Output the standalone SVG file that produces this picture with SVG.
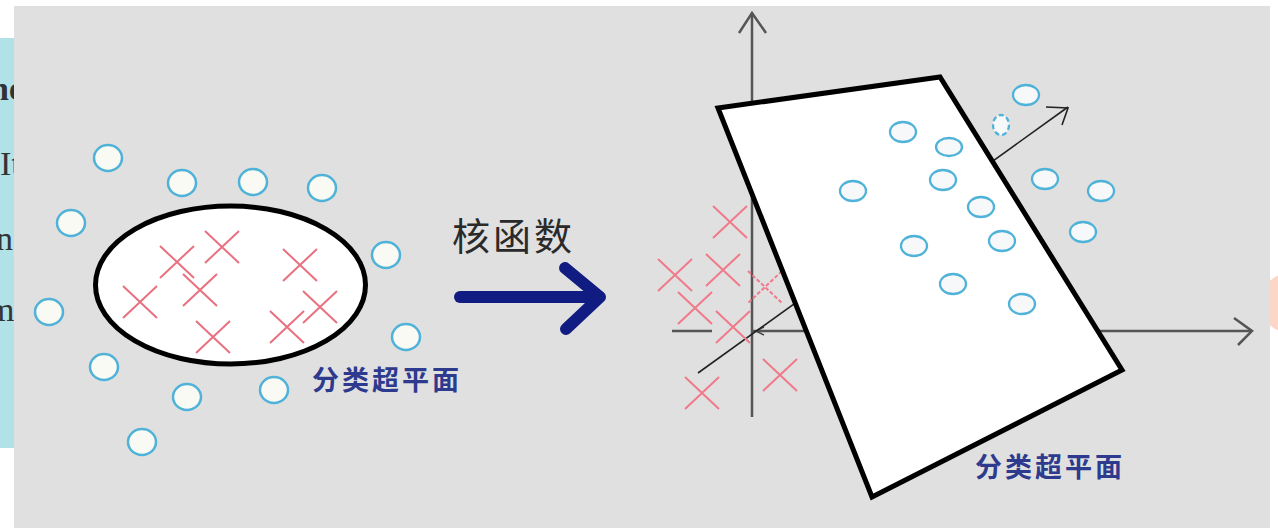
<svg xmlns="http://www.w3.org/2000/svg" xmlns:xlink="http://www.w3.org/1999/xlink" width="1278" height="528" viewBox="0 0 1278 528">
<style>
.pt{fill:#fafaf4;stroke:#4fb2d8;stroke-width:2.5}
.pr{fill:#f6f8f9;stroke:#4fb2d8;stroke-width:2.3}
.cx{stroke:#e8707f;stroke-width:2;fill:none}
.cxr{stroke:#f07a89;stroke-width:2;fill:none}
.ax{stroke:#555;stroke-width:2.5;fill:none}
.lab{font-family:"Noto Sans CJK SC","Noto Sans",sans-serif;font-weight:bold;fill:#2d3a8e;font-size:27px;letter-spacing:3px}
.side{font-family:"Liberation Serif",serif;fill:#333;font-size:34px}
</style>
<defs>
<path id="x" d="M-17,-16 L17,16 M17,-16 L-17,16"/>
</defs>
<rect x="0" y="0" width="1278" height="528" fill="#ffffff"/>
<g id="side-panel">
<rect x="0" y="38" width="40" height="410" fill="#b0e2e8"/>
<text class="side" x="-10" y="100" font-weight="bold" font-size="40">ne</text>
<text class="side" x="0" y="175">It</text>
<text class="side" x="-4" y="250">n</text>
<text class="side" x="-12" y="321">m</text>
</g>
<circle id="orange-dot" cx="1290" cy="303" r="30" fill="#fcd6c6"/>
<rect id="picture" x="14" y="6" width="1256" height="522" fill="#e0e0e0"/>

<g id="left-space">
<ellipse cx="230.5" cy="285" rx="135" ry="79" fill="#ffffff" stroke="#000" stroke-width="5"/>
<g class="cx">
<use xlink:href="#x" x="140" y="302"/>
<use xlink:href="#x" x="177" y="262"/>
<use xlink:href="#x" x="222" y="247"/>
<use xlink:href="#x" x="200" y="290"/>
<use xlink:href="#x" x="213" y="337"/>
<use xlink:href="#x" x="300" y="265"/>
<use xlink:href="#x" x="320" y="307"/>
<use xlink:href="#x" x="287" y="327"/>
</g>
<g>
<ellipse class="pt" cx="108" cy="158" rx="14" ry="13"/>
<ellipse class="pt" cx="182" cy="183" rx="14" ry="13"/>
<ellipse class="pt" cx="253" cy="182" rx="14" ry="13"/>
<ellipse class="pt" cx="322" cy="188" rx="14" ry="13"/>
<ellipse class="pt" cx="71" cy="223" rx="14" ry="13"/>
<ellipse class="pt" cx="386" cy="255" rx="14" ry="13"/>
<ellipse class="pt" cx="49" cy="312" rx="14" ry="13"/>
<ellipse class="pt" cx="406" cy="337" rx="14" ry="13"/>
<ellipse class="pt" cx="104" cy="367" rx="14" ry="13"/>
<ellipse class="pt" cx="187" cy="397" rx="14" ry="13"/>
<ellipse class="pt" cx="274" cy="390" rx="14" ry="13"/>
<ellipse class="pt" cx="142" cy="442" rx="14" ry="13"/>
</g>
<text class="lab" x="312" y="378" dominant-baseline="central">分类超平面</text>
</g>

<g id="kernel-arrow">
<text x="452" y="233" dominant-baseline="central" font-family="Noto Sans CJK SC,sans-serif" font-size="38" letter-spacing="3" fill="#2a2a2a">核函数</text>
<g stroke="#101c82" stroke-width="12" stroke-linecap="round" stroke-linejoin="round" fill="none">
<line x1="460" y1="297" x2="598" y2="297"/>
<polyline points="565,268 600,297 566,329"/>
</g>
</g>

<g id="connectors">
<line class="ax" x1="752" y1="13" x2="752" y2="417"/>
<polyline class="ax" points="739,33 752,13 766,33"/>
<line class="ax" x1="672" y1="331" x2="712" y2="331" stroke-width="3.5"/>
<line class="ax" x1="752" y1="331" x2="1252" y2="331"/>
<polyline class="ax" points="1234,318 1252,331 1238,345" stroke-width="2"/>
<polyline points="764,327 756,331 764,335" fill="none" stroke="#444" stroke-width="1.5"/>
<line x1="698" y1="373" x2="1068" y2="107" stroke="#222" stroke-width="1.6"/>
<polyline points="1046,107 1068,108 1062,125" fill="none" stroke="#222" stroke-width="1.6"/>
</g>

<g id="right-space">
<g class="cxr">
<use xlink:href="#x" x="730" y="222"/>
<use xlink:href="#x" x="675" y="275"/>
<use xlink:href="#x" x="723" y="270"/>
<use xlink:href="#x" x="695" y="308"/>
<use xlink:href="#x" x="765" y="287" stroke-dasharray="4 2"/>
<use xlink:href="#x" x="733" y="327"/>
<use xlink:href="#x" x="780" y="375"/>
<use xlink:href="#x" x="702" y="393"/>
</g>
<polygon id="hyperplane" points="718,108 940,77 1122,370 872,497" fill="#ffffff" stroke="#000" stroke-width="5" stroke-linejoin="miter"/>
<g>
<ellipse class="pr" cx="1026" cy="95" rx="13" ry="10"/>
<ellipse class="pr" cx="1001" cy="125" rx="8" ry="10" stroke-dasharray="5 3"/>
<ellipse class="pr" cx="903" cy="132" rx="13" ry="10"/>
<ellipse class="pr" cx="949" cy="147" rx="13" ry="9"/>
<ellipse class="pr" cx="853" cy="191" rx="13" ry="10"/>
<ellipse class="pr" cx="943" cy="180" rx="13" ry="10"/>
<ellipse class="pr" cx="1045" cy="179" rx="13" ry="10"/>
<ellipse class="pr" cx="1101" cy="191" rx="13" ry="10"/>
<ellipse class="pr" cx="981" cy="207" rx="13" ry="10"/>
<ellipse class="pr" cx="1002" cy="241" rx="13" ry="10"/>
<ellipse class="pr" cx="1083" cy="232" rx="13" ry="10"/>
<ellipse class="pr" cx="914" cy="246" rx="13" ry="10"/>
<ellipse class="pr" cx="953" cy="284" rx="13" ry="10"/>
<ellipse class="pr" cx="1022" cy="304" rx="13" ry="10"/>
</g>
<text class="lab" x="975" y="465" dominant-baseline="central">分类超平面</text>
</g>
</svg>
